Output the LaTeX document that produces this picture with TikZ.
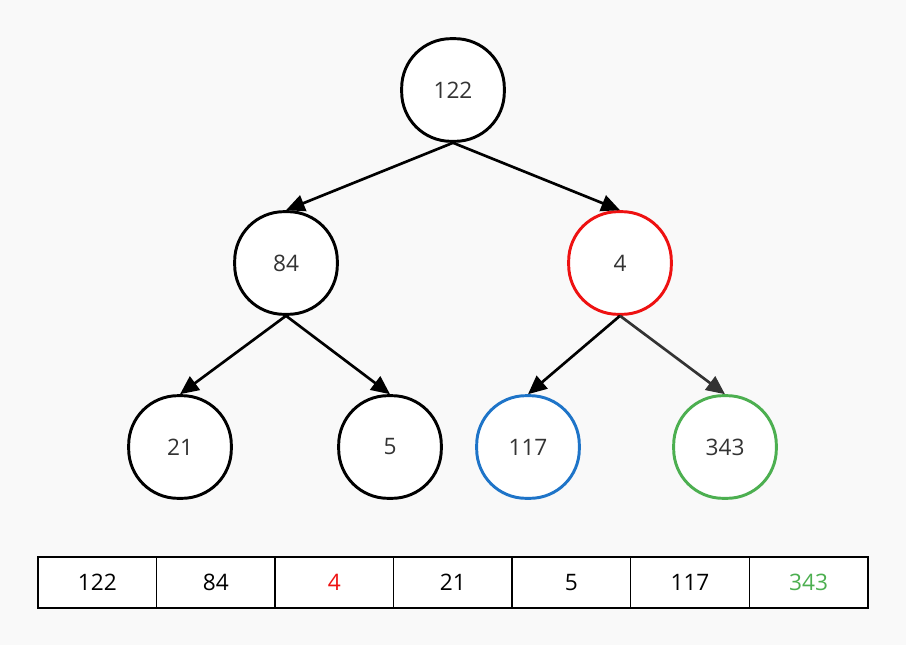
\documentclass[tikz,border=0pt]{standalone}
\usepackage{fontspec}
\setmainfont{Open Sans}
\usepackage{xcolor}
\usetikzlibrary{arrows.meta, positioning}

\definecolor{bgcol}{HTML}{F9F9F9}
\definecolor{txtgray}{HTML}{333333}
\definecolor{hlred}{HTML}{EE1111}
\definecolor{hlblue}{HTML}{1E74C8}
\definecolor{hlgreen}{HTML}{4CAF50}

\begin{document}
\begin{tikzpicture}[
        x=0.75pt, y=-0.75pt,
        key/.style={rectangle, rounded corners=37pt, draw, line width=2.2pt, fill=white,
            minimum size=77pt, inner sep=0pt, text=txtgray, font=\fontsize{17}{20}\selectfont},
        cell/.style={rectangle, draw, line width=1.1pt, fill=white, outer sep=0pt,
            minimum width=88.9pt, minimum height=38.2pt, inner sep=0pt, font=\fontsize{17}{20}\selectfont},
        edge/.style={-{Triangle[length=14pt, width=12.5pt]}, line width=2pt}
    ]

    % Background
    \fill[bgcol] (0,0) rectangle (906,645);
    \useasboundingbox (0,0) rectangle (906,645);

    % Tree
    \node[key] (n122) at (453,90) {122};
    \node[key] (n84) at (286,263) {84};
    \node[key, draw=hlred] (n4) at (620,263) {4};
    \node[key] (n21) at (180,447) {21};
    \node[key] (n5) at (390,447) {5};
    \node[key, draw=hlblue] (n117) at (528,447) {117};
    \node[key, draw=hlgreen] (n343) at (725,447) {343};

    \draw[edge] (n122.south) -- (n84.north);
    \draw[edge] (n122.south) -- (n4.north);
    \draw[edge] (n84.south) -- (n21.north);
    \draw[edge] (n84.south) -- (n5.north);
    \draw[edge] (n4.south) -- (n117.north);
    \draw[edge, txtgray] (n4.south) -- (n343.north);

    % Array
    \node[cell] (c1) at (97.3,582.5) {122};
    \node[cell, right=0pt of c1] (c2) {84};
    \node[cell, right=0pt of c2, text=hlred] (c3) {4};
    \node[cell, right=0pt of c3] (c4) {21};
    \node[cell, right=0pt of c4] (c5) {5};
    \node[cell, right=0pt of c5] (c6) {117};
    \node[cell, right=0pt of c6, text=hlgreen] (c7) {343};

\end{tikzpicture}
\end{document}
